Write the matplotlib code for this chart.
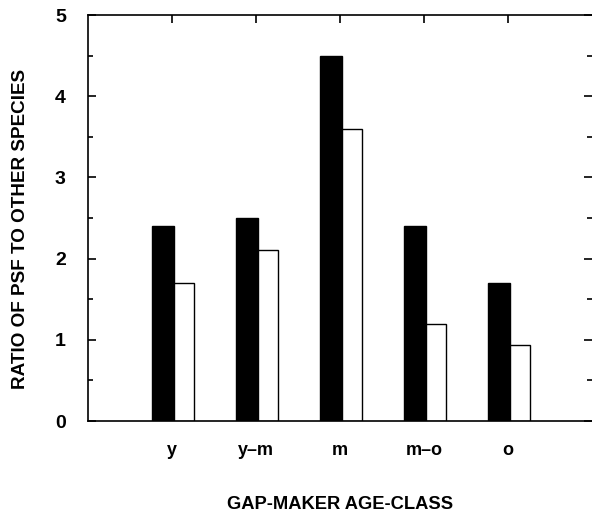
import numpy as np
import matplotlib
matplotlib.use("Agg")
from matplotlib import pyplot as plt
from matplotlib.ticker import MultipleLocator

# dane
klasy = ["y", "y\u2013m", "m", "m\u2013o", "o"]
czarne = [2.4, 2.5, 4.5, 2.4, 1.7]
biale = [1.7, 2.1, 3.6, 1.2, 0.93]

plt.rcParams['font.family'] = ['Liberation Sans', 'DejaVu Sans']
plt.rcParams['font.weight'] = 'bold'

fig = plt.figure(figsize=(5.92, 5.2), dpi=100)
ax = fig.add_axes([88/592, 1 - 421/520, 504/592, 406/520])

x = np.arange(1, len(klasy) + 1)
ax.bar(x - 0.24, czarne, width=0.26, align='edge', color='black',
       edgecolor='black', linewidth=1.0)
ax.bar(x + 0.02, biale, width=0.24, align='edge', color='white',
       edgecolor='black', linewidth=1.0)

ax.set_xlim(0, 6)
ax.set_ylim(0, 5)

ax.set_xticks(x)
ax.set_xticklabels(klasy, fontsize=13, fontweight='bold')
ax.tick_params(axis='x', which='major', direction='in', length=6, width=1.2,
               bottom=False, top=True, labelbottom=True, pad=15)

ax.yaxis.set_major_locator(MultipleLocator(1))
ax.yaxis.set_minor_locator(MultipleLocator(0.5))
ax.tick_params(axis='y', which='major', direction='in', length=6, width=1.2,
               left=True, right=True, labelsize=14, pad=16)
ax.tick_params(axis='y', which='minor', direction='in', length=3.5, width=1.2,
               left=True, right=True)
for lab in ax.get_yticklabels():
    lab.set_fontweight('bold')

for s in ['left', 'top', 'bottom']:
    ax.spines[s].set_linewidth(1.2)
ax.spines['right'].set_visible(False)

ax.set_xlabel('GAP-MAKER AGE-CLASS', fontsize=13.2, fontweight='bold')
ax.xaxis.set_label_coords(0.5, -0.185)
ax.set_ylabel('RATIO OF PSF TO OTHER SPECIES', fontsize=13.6, fontweight='bold')
ax.yaxis.set_label_coords(-0.117, 0.473)

fig.savefig('out.png', dpi=100)
